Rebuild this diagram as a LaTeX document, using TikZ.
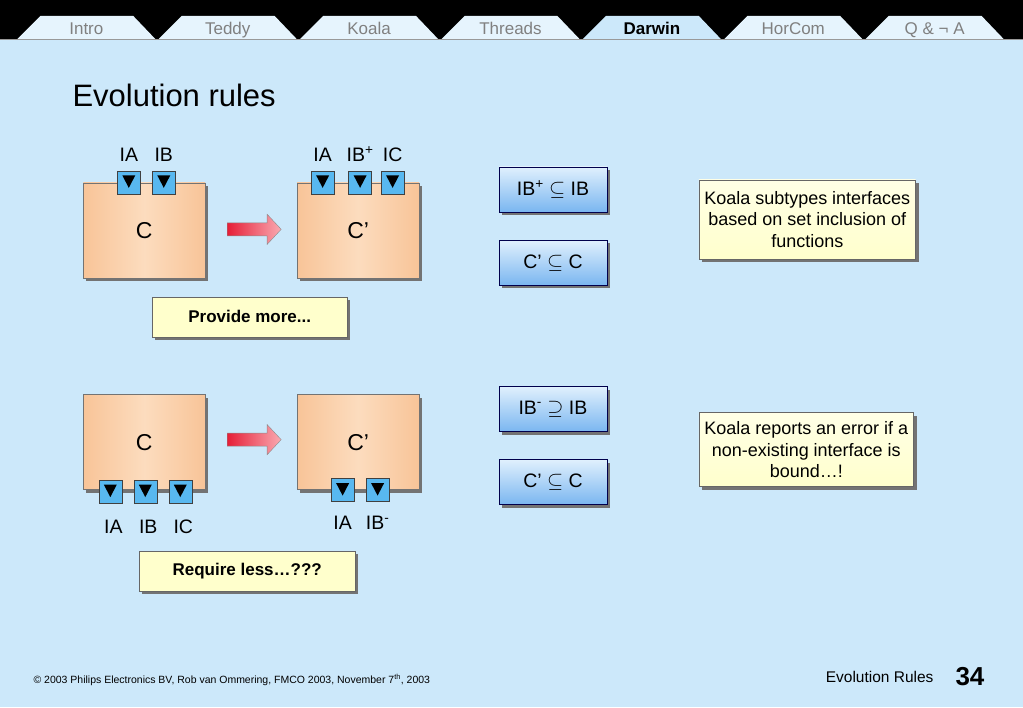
\documentclass[tikz,border=0pt]{standalone}
\usepackage{fontspec}
\setmainfont{Liberation Sans}
\usetikzlibrary{shadows}
\definecolor{slidebg}{RGB}{204,232,250}
\definecolor{tabfill}{RGB}{230,244,253}
\definecolor{tabtext}{RGB}{128,128,128}
\definecolor{compedge}{RGB}{248,196,152}
\definecolor{compmid}{RGB}{252,220,190}
\definecolor{portblue}{RGB}{88,184,240}
\definecolor{fbtop}{RGB}{224,240,253}
\definecolor{fbbot}{RGB}{122,182,240}
\definecolor{notefill}{RGB}{255,255,204}
\definecolor{notetop}{RGB}{255,255,230}
\definecolor{arrowred}{RGB}{230,30,55}
\definecolor{arrowpink}{RGB}{250,170,178}
\begin{document}
\begin{tikzpicture}[x=1pt,y=-1pt,
    shade/.style={drop shadow={shadow xshift=3pt,shadow yshift=-3pt,fill=black!55,opacity=1}},
    comp/.style={draw=black!55, left color=compedge, right color=compedge, middle color=compmid,
      minimum width=122pt, minimum height=95pt, inner sep=0pt, shade,
      font=\fontsize{23}{26}\selectfont},
    port/.style={draw=black!75, fill=portblue, minimum size=23pt, inner sep=0pt},
    portlabel/.style={anchor=base, font=\fontsize{19.5}{22}\selectfont, inner sep=0pt},
    formula/.style={draw=blue!30!black, top color=fbtop, bottom color=fbbot,
      minimum width=108pt, minimum height=45pt, inner sep=0pt, shade,
      font=\fontsize{19.5}{22}\selectfont},
    note/.style={draw=black!60, top color=notetop, bottom color=notefill, align=center,
      minimum width=217pt, minimum height=79pt, inner sep=2pt, shade,
      font=\fontsize{18}{21.5}\selectfont},
    hint/.style={draw=black!60, fill=notefill, minimum height=40pt, inner sep=0pt, shade,
      font=\bfseries\fontsize{17}{20}\selectfont},
    evolve/.style={draw=black!45, left color=arrowred, right color=arrowpink}]
  % slide background and tab bar
  \fill[slidebg] (0,0) rectangle (1023,708);
  \fill[black] (0,0) rectangle (1023,39);
  \foreach \tab [count=\i from 0] in {Intro,Teddy,Koala,Threads,Darwin,HorCom,Q \& ¬ A} {
    \pgfmathsetmacro{\tx}{17+141.5*\i}
    \ifnum\i=4
      \fill[slidebg] (\tx,39) -- (\tx+23,16) -- (\tx+116,16) -- (\tx+138,39) -- cycle;
      \node[anchor=base, inner sep=0pt, font=\bfseries\fontsize{17}{20}\selectfont] (tab\i) at (\tx+69,35) {\tab};
    \else
      \fill[tabfill] (\tx,39) -- (\tx+23,16) -- (\tx+116,16) -- (\tx+138,39) -- cycle;
      \node[anchor=base, inner sep=0pt, text=tabtext, font=\fontsize{17}{20}\selectfont] (tab\i) at (\tx+69,35) {\tab};
    \fi
  }
  \draw[black!40, line width=0.8pt] (0,39) -- (1023,39);
  % title
  \node[anchor=west, inner sep=0pt, font=\fontsize{31}{36}\selectfont] (title) at (72,96) {Evolution rules};

  % provide more: components with ports on top
  \node[comp] (c1) at (144,230.5) {C};
  \node[comp] (c2) at (358,230.5) {C’};
  \coordinate (ev1) at (227,229.5);
  \draw[evolve] (ev1) ++(0,-6.5) -- ++(40,0) -- ++(0,-8.5) -- ++(14,15) -- ++(-14,15)
    -- ++(0,-8.5) -- ++(-40,0) -- cycle;
  \foreach \x/\lbl [count=\i] in {128.5/IA,163.5/IB} {
    \node[port] (pa\i) at (\x,182.5) {};
    \fill (pa\i.center) ++(-6.5,-7) -- ++(13,0) -- ++(-6.5,12.5) -- cycle;
    \node[portlabel] at (\x,162) {\lbl};
  }
  \foreach \x/\lbl [count=\i] in {322.5/IA,360/{IB\textsuperscript{+}},392.5/IC} {
    \node[port] (pb\i) at (\x,182.5) {};
    \fill (pb\i.center) ++(-6.5,-7) -- ++(13,0) -- ++(-6.5,12.5) -- cycle;
    \node[portlabel] at (\x,162) {\lbl};
  }
  \node[hint, minimum width=195pt] (more) at (249.5,317) {Provide more...};

  % require less: components with ports below
  \node[comp] (c3) at (144,442.5) {C};
  \node[comp] (c4) at (358,442.5) {C’};
  \coordinate (ev2) at (227,440);
  \draw[evolve] (ev2) ++(0,-6.5) -- ++(40,0) -- ++(0,-8.5) -- ++(14,15) -- ++(-14,15)
    -- ++(0,-8.5) -- ++(-40,0) -- cycle;
  \foreach \x/\lbl [count=\i] in {110/IA,145/IB,180/IC} {
    \node[port] (pc\i) at (\x,492) {};
    \fill (pc\i.center) ++(-6.5,-7) -- ++(13,0) -- ++(-6.5,12.5) -- cycle;
    \node[portlabel] at (\x+3,534) {\lbl};
  }
  \foreach \x/\lbl [count=\i] in {342.5/IA,377.5/{IB\textsuperscript{-}}} {
    \node[port] (pd\i) at (\x,490.5) {};
    \fill (pd\i.center) ++(-6.5,-7) -- ++(13,0) -- ++(-6.5,12.5) -- cycle;
    \node[portlabel] at (\x,530) {\lbl};
  }
  \node[hint, minimum width=216pt] (less) at (247,571.5) {Require less…???};

  % subtype relations
  \node[formula] (f1) at (553,189.5) {IB\textsuperscript{+} $\subseteq$ IB};
  \node[formula] (f2) at (553,263) {C’ $\subseteq$ C};
  \node[formula] (f3) at (553,409.5) {IB\textsuperscript{-} $\supseteq$ IB};
  \node[formula] (f4) at (553,482.5) {C’ $\subseteq$ C};
  \node[note] (n1) at (807.5,219.5) {Koala subtypes interfaces\\based on set inclusion of\\functions};
  \node[note, minimum width=215pt, minimum height=74pt] (n2) at (806.5,450) {Koala reports an error if a\\non-existing interface is\\bound…!};

  % footer
  \node[anchor=west, inner sep=0pt, font=\fontsize{10.5}{12}\selectfont] (copy) at (33,680)
    {© 2003 Philips Electronics BV, Rob van Ommering, FMCO 2003, November 7\textsuperscript{th}, 2003};
  \node[anchor=east, inner sep=0pt, font=\fontsize{15.5}{18}\selectfont] (foot) at (934,677) {Evolution Rules};
  \node[anchor=east, inner sep=0pt, font=\bfseries\fontsize{26}{30}\selectfont] (page) at (985,677) {34};
\end{tikzpicture}
\end{document}
